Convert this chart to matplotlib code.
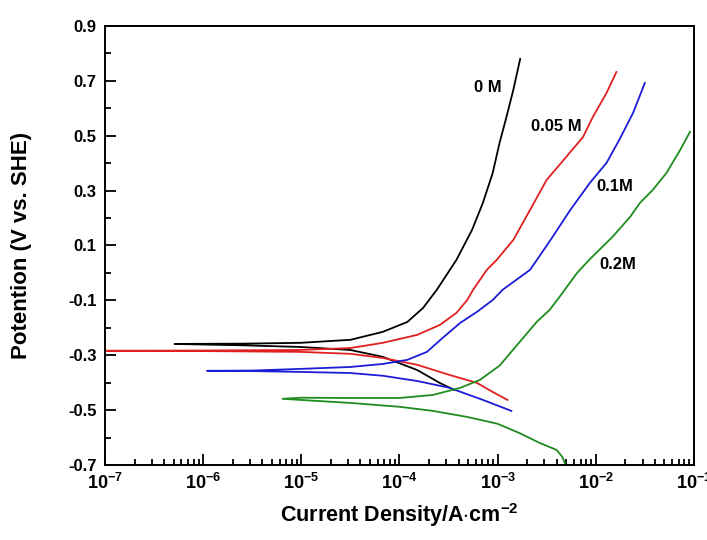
import numpy as np
import matplotlib
matplotlib.use("Agg")
import matplotlib.pyplot as plt
from matplotlib.ticker import FixedLocator, LogLocator, NullFormatter

plt.rcParams['font.family'] = ['Liberation Sans', 'DejaVu Sans']
plt.rcParams['font.weight'] = 'bold'
plt.rcParams['mathtext.fontset'] = 'custom'
plt.rcParams['mathtext.rm'] = 'Liberation Sans:bold'
plt.rcParams['mathtext.bf'] = 'Liberation Sans:bold'

# polarization curves: log10(current density), potential (V vs SHE)
# each runs from the cathodic end, through Ecorr, up the anodic branch
logi_0M = [-3.44, -3.59, -3.82, -4.17, -4.50, -5.01, -5.60, -6.29,
           -5.60, -5.01, -4.50, -4.17, -3.92, -3.76, -3.62, -3.42, -3.26,
           -3.15, -3.05, -2.98, -2.91, -2.84, -2.77]
e_0M = [-0.427, -0.401, -0.354, -0.306, -0.281, -0.270, -0.264, -0.259,
        -0.258, -0.255, -0.244, -0.215, -0.179, -0.128, -0.062, 0.047, 0.157,
        0.255, 0.364, 0.474, 0.568, 0.667, 0.780]

logi_005M = [-2.90, -3.05, -3.21, -3.49, -3.82, -4.17, -4.50, -5.01, -6.00, -7.05,
             -6.00, -5.01, -4.50, -4.17, -3.82, -3.59, -3.42, -3.31, -3.25, -3.11,
             -3.01, -2.84, -2.67, -2.50, -2.30, -2.13, -2.03, -1.89, -1.79]
e_005M = [-0.463, -0.434, -0.401, -0.372, -0.335, -0.310, -0.295, -0.288, -0.285, -0.284,
          -0.283, -0.281, -0.274, -0.255, -0.226, -0.190, -0.146, -0.099, -0.062, 0.011,
          0.047, 0.120, 0.229, 0.339, 0.423, 0.495, 0.568, 0.656, 0.732]

logi_01M = [-2.86, -3.15, -3.49, -3.82, -4.17, -4.50, -5.01, -5.50, -5.96,
            -5.50, -5.01, -4.50, -4.17, -3.92, -3.72, -3.56, -3.38, -3.21, -3.05,
            -2.95, -2.67, -2.60, -2.44, -2.26, -2.06, -1.89, -1.76, -1.62, -1.50]
e_01M = [-0.503, -0.463, -0.419, -0.394, -0.375, -0.365, -0.361, -0.358, -0.357,
         -0.356, -0.350, -0.343, -0.332, -0.317, -0.288, -0.237, -0.182, -0.142, -0.099,
         -0.062, 0.011, 0.047, 0.131, 0.229, 0.328, 0.401, 0.485, 0.583, 0.692]

logi_02M = [-2.29, -2.30, -2.34, -2.40, -2.57, -2.77, -3.00, -3.31, -3.66, -4.00, -4.50,
            -5.01, -5.19,
            -5.01, -4.50, -4.00, -3.66, -3.38, -3.18, -2.98, -2.79, -2.60, -2.47, -2.37,
            -2.19, -2.06, -1.83, -1.65, -1.55, -1.42, -1.28, -1.14, -1.04]
e_02M = [-0.720, -0.707, -0.671, -0.645, -0.620, -0.585, -0.550, -0.525, -0.503, -0.488, -0.474,
         -0.463, -0.459,
         -0.455, -0.456, -0.456, -0.445, -0.419, -0.390, -0.338, -0.258, -0.178, -0.135, -0.088,
         0.000, 0.050, 0.131, 0.204, 0.255, 0.302, 0.364, 0.448, 0.514]

series = [("0 M", logi_0M, e_0M, "black"),
          ("0.05 M", logi_005M, e_005M, "#e02020"),
          ("0.1M", logi_01M, e_01M, "#1c1cd6"),
          ("0.2M", logi_02M, e_02M, "#1e8c1e")]

# label anchors (log10 i, E)
label_pos = {"0 M": (-3.10, 0.674), "0.05 M": (-2.40, 0.532),
             "0.1M": (-1.81, 0.313), "0.2M": (-1.78, 0.029)}

fig = plt.figure(figsize=(7.07, 5.40), dpi=100)
ax = fig.add_axes([0.1485, 0.139, 0.833, 0.813])

for name, li, e, col in series:
    ax.plot(10 ** np.array(li), e, color=col, lw=1.3)
    lx, ly = label_pos[name]
    ax.text(10 ** lx, ly, name, fontsize=12, fontweight='bold', ha='center', va='center')

ax.set_xscale('log')
ax.set_xlim(1e-7, 1e-1)
ax.set_ylim(-0.7, 0.9)

ax.xaxis.set_major_locator(FixedLocator([10.0 ** k for k in range(-7, 0)]))
ax.set_xticklabels([r'$10^{%d}$' % k for k in range(-7, 0)], fontsize=13)
ax.xaxis.set_minor_locator(LogLocator(base=10, subs=np.arange(2, 10), numticks=20))
ax.xaxis.set_minor_formatter(NullFormatter())

yt = np.arange(-0.7, 0.91, 0.2)
ax.set_yticks(yt)
ax.set_yticklabels(['%.1f' % v for v in yt], fontsize=12)
ax.set_yticks(np.arange(-0.6, 0.9, 0.2), minor=True)

ax.tick_params(which='both', direction='in', width=1.3)
ax.tick_params(which='major', length=8, pad=6)
ax.tick_params(which='minor', length=4.5)
for lab in ax.get_xticklabels() + ax.get_yticklabels():
    lab.set_fontweight('bold')
for sp in ax.spines.values():
    sp.set_linewidth(1.4)

ax.set_xlabel(r'Current Density/A$\cdot$cm$^{-2}$', fontsize=15.5, fontweight='bold')
ax.set_ylabel('Potention (V vs. SHE)', fontsize=16, fontweight='bold')
ax.xaxis.set_label_coords(0.5, -0.083)
ax.yaxis.set_label_coords(-0.124, 0.5)

fig.savefig('out.png', dpi=100)
